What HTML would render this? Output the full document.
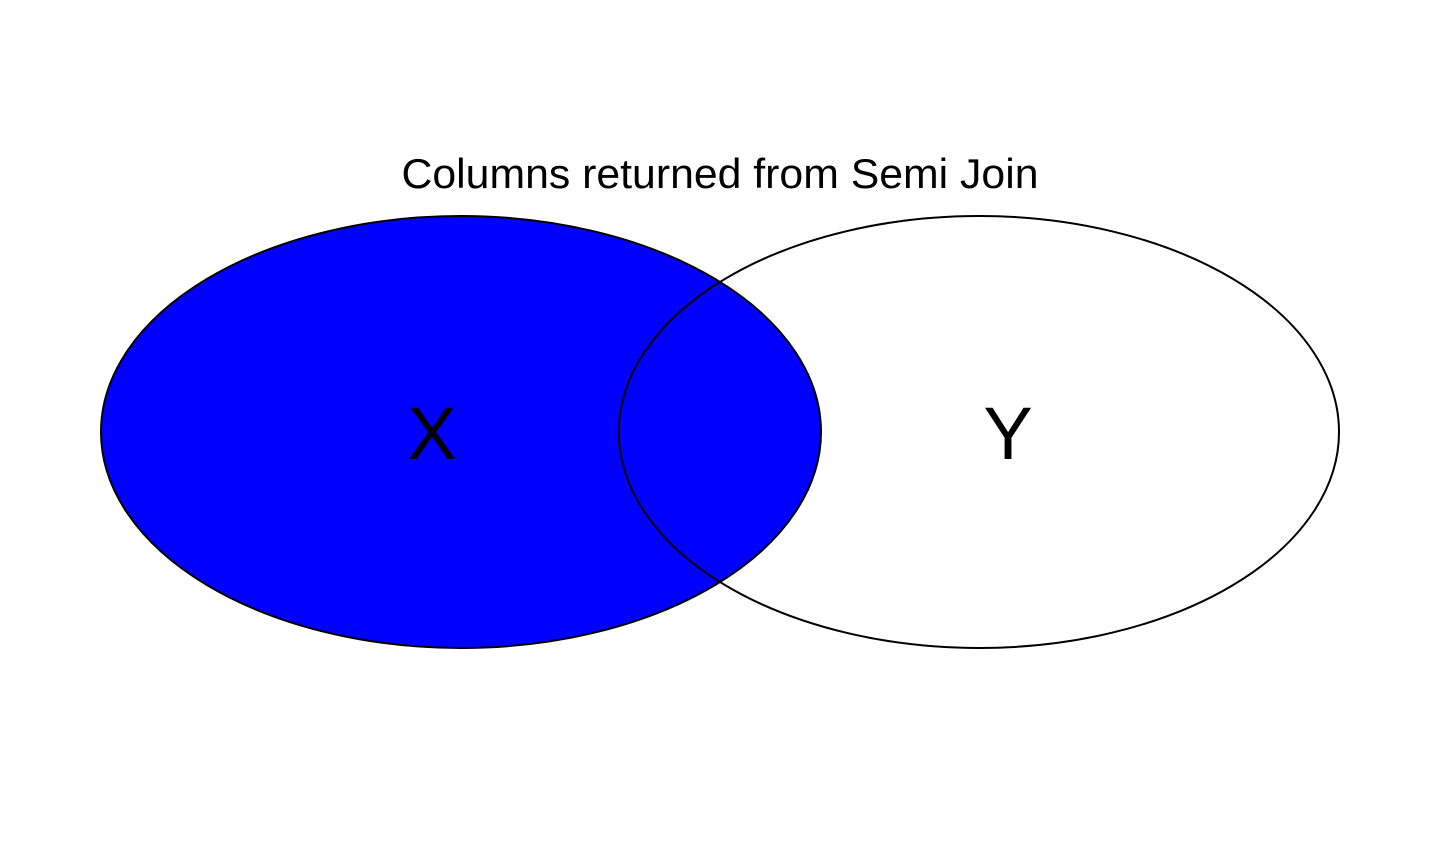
<!DOCTYPE html>
<html>
<head>
<meta charset="utf-8">
<style>
html,body{margin:0;padding:0;background:#fff;}
svg{display:block;}
text{font-family:"Liberation Sans",Arial,sans-serif;}
</style>
</head>
<body>
<svg id="chart" width="1440" height="864" viewBox="0 0 1440 864">
<text x="720" y="188" text-anchor="middle" font-size="42" textLength="637" lengthAdjust="spacingAndGlyphs" fill="#000">Columns returned from Semi Join</text>
<g id="sets"></g>
</svg>
<script>
const setNames = ["X", "Y"];
const setCentersX = [461, 979];
const setFills = ["#0000ff", "none"];
const labelX = [432, 1008];
const cy = 432, rx = 360, ry = 216;
const NS = "http://www.w3.org/2000/svg";
const g = document.getElementById("sets");
setNames.forEach((n, i) => {
  const e = document.createElementNS(NS, "ellipse");
  e.setAttribute("cx", setCentersX[i]);
  e.setAttribute("cy", cy);
  e.setAttribute("rx", rx);
  e.setAttribute("ry", ry);
  e.setAttribute("fill", setFills[i]);
  e.setAttribute("stroke", "#000");
  e.setAttribute("stroke-width", "2");
  
  
  g.appendChild(e);
});
setNames.forEach((n, i) => {
  const t = document.createElementNS(NS, "text");
  t.setAttribute("x", labelX[i]);
  t.setAttribute("y", cy + 27);
  t.setAttribute("text-anchor", "middle");
  t.setAttribute("font-size", "74");
  t.textContent = n;
  
  
  g.appendChild(t);
});
</script>
</body>
</html>
